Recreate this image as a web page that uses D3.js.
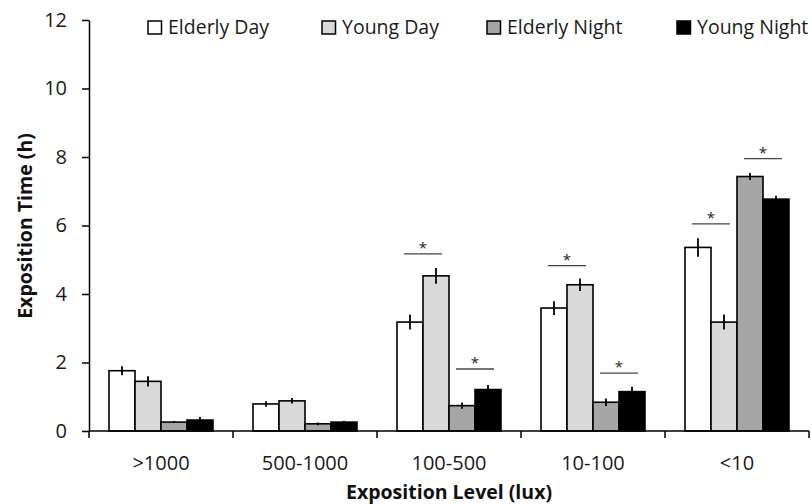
<!DOCTYPE html>
<html>
<head>
<meta charset="utf-8">
<script src="https://cdn.jsdelivr.net/npm/d3@7"></script>
<style>
  html, body { margin: 0; padding: 0; background: #fff; }
  svg { display: block; font-family: "Open Sans", "Liberation Sans", sans-serif; }
</style>
</head>
<body>
<svg id="chart" width="812" height="504"></svg>
<script>
// Exposure levels (x categories) and the four subject groups
const categories = [">1000", "500-1000", "100-500", "10-100", "<10"];
const series = ["Elderly Day", "Young Day", "Elderly Night", "Young Night"];
const seriesColors = ["#ffffff", "#d9d9d9", "#a6a6a6", "#000000"];

// Mean exposition time (h) per category, one array per group
const elderlyDay   = [1.76, 0.79, 3.18, 3.59, 5.36];
const youngDay     = [1.45, 0.88, 4.53, 4.27, 3.18];
const elderlyNight = [0.26, 0.21, 0.74, 0.84, 7.43];
const youngNight   = [0.32, 0.26, 1.21, 1.15, 6.77];

// Standard errors (h)
const elderlyDayErr   = [0.13, 0.08, 0.22, 0.20, 0.27];
const youngDayErr     = [0.15, 0.08, 0.23, 0.18, 0.22];
const elderlyNightErr = [0.03, 0.04, 0.09, 0.11, 0.10];
const youngNightErr   = [0.09, 0.04, 0.13, 0.14, 0.10];

// Significant differences: category, compared pair, bracket height (h)
const sigCategories = ["100-500", "100-500", "10-100", "10-100", "<10", "<10"];
const sigPairs      = ["day", "night", "day", "night", "day", "night"];
const sigLevels     = [5.17, 1.81, 4.83, 1.69, 6.05, 7.95];

const yTicks = [0, 2, 4, 6, 8, 10, 12];

const values = [elderlyDay, youngDay, elderlyNight, youngNight];
const errors = [elderlyDayErr, youngDayErr, elderlyNightErr, youngNightErr];

const bars = [];
series.forEach((s, si) => {
  categories.forEach((c, ci) => {
    bars.push({ series: s, color: seriesColors[si], category: c,
                value: values[si][ci], err: errors[si][ci] });
  });
});

const svg = d3.select("#chart");
const plotLeft = 89, plotRight = 809, plotTop = 20, plotBottom = 431;

const x = d3.scaleBand().domain(categories).range([plotLeft, plotRight]).padding(0);
const xInner = d3.scaleBand().domain(series)
  .range([20, x.bandwidth() - 20]).padding(0);
const y = d3.scaleLinear().domain([0, 12]).range([plotBottom, plotTop]);

// Bars
svg.append("g").selectAll("rect").data(bars).join("rect")
  .attr("x", d => x(d.category) + xInner(d.series))
  .attr("y", d => y(d.value))
  .attr("width", xInner.bandwidth())
  .attr("height", d => y(0) - y(d.value))
  .attr("fill", d => d.color)
  .attr("stroke", "#000")
  .attr("stroke-width", 1.6);

// Error bars (vertical whiskers only)
svg.append("g").selectAll("line").data(bars).join("line")
  .attr("x1", d => x(d.category) + xInner(d.series) + xInner.bandwidth() / 2)
  .attr("x2", d => x(d.category) + xInner(d.series) + xInner.bandwidth() / 2)
  .attr("y1", d => y(d.value + d.err))
  .attr("y2", d => y(d.value - d.err))
  .attr("stroke", "#000")
  .attr("stroke-width", 1.8);

// Y axis
const yAxis = svg.append("g")
  .attr("transform", `translate(${plotLeft},0)`)
  .call(d3.axisLeft(y).tickValues(yTicks).tickSize(7).tickPadding(15).tickSizeOuter(0));
yAxis.select(".domain").attr("stroke", "#000").attr("stroke-width", 1.5);
yAxis.selectAll(".tick line").attr("stroke", "#000").attr("stroke-width", 1.5);
yAxis.selectAll(".tick text")
  .attr("font-size", 20).attr("fill", "#1a1a1a")
  .attr("font-family", "Open Sans, sans-serif");

// X axis: baseline with ticks at category boundaries
const xg = svg.append("g");
xg.append("line")
  .attr("x1", plotLeft).attr("x2", plotRight)
  .attr("y1", plotBottom).attr("y2", plotBottom)
  .attr("stroke", "#000").attr("stroke-width", 1.5);
const boundaries = categories.map(c => x(c)).concat([x(categories[categories.length - 1]) + x.bandwidth()]);
xg.selectAll("line.tk").data(boundaries).join("line")
  .attr("class", "tk")
  .attr("x1", d => d).attr("x2", d => d)
  .attr("y1", plotBottom).attr("y2", plotBottom + 7)
  .attr("stroke", "#000").attr("stroke-width", 1.5);
xg.selectAll("text").data(categories).join("text")
  .attr("x", d => x(d) + x.bandwidth() / 2)
  .attr("y", 470)
  .attr("text-anchor", "middle")
  .attr("font-size", 20)
  .attr("fill", "#1a1a1a")
  .text(d => d);

// Significance brackets with asterisks
const sig = sigCategories.map((c, i) => ({ category: c, pair: sigPairs[i], level: sigLevels[i] }));
const sg = svg.append("g");
sig.forEach(d => {
  const a = d.pair === "day" ? series[0] : series[2];
  const b = d.pair === "day" ? series[1] : series[3];
  const bw = xInner.bandwidth();
  const x1 = x(d.category) + xInner(a) + bw * 0.27;
  const x2 = x(d.category) + xInner(b) + bw * 0.73;
  sg.append("line")
    .attr("x1", x1).attr("x2", x2)
    .attr("y1", y(d.level)).attr("y2", y(d.level))
    .attr("stroke", "#444").attr("stroke-width", 1.3);
  sg.append("text")
    .attr("x", (x1 + x2) / 2)
    .attr("y", y(d.level) - 1)
    .attr("text-anchor", "middle")
    .attr("font-size", 15)
    .attr("fill", "#222")
    .text("*");
});

// Legend
const legendX = [148, 322, 487, 677];
const lg = svg.append("g");
series.forEach((s, i) => {
  lg.append("rect")
    .attr("x", legendX[i]).attr("y", 21)
    .attr("width", 13.5).attr("height", 13)
    .attr("fill", seriesColors[i])
    .attr("stroke", "#000").attr("stroke-width", 1.5);
  lg.append("text")
    .attr("x", legendX[i] + 20).attr("y", 34)
    .attr("font-size", 19.5)
    .attr("fill", "#1a1a1a")
    .text(s);
});

// Axis titles
svg.append("text")
  .attr("x", (plotLeft + plotRight) / 2).attr("y", 499)
  .attr("text-anchor", "middle")
  .attr("font-size", 19.5).attr("font-weight", "bold")
  .attr("fill", "#111")
  .text("Exposition Level (lux)");

svg.append("text")
  .attr("transform", "translate(32,226) rotate(-90)")
  .attr("text-anchor", "middle")
  .attr("font-size", 19.5).attr("font-weight", "bold")
  .attr("fill", "#111")
  .text("Exposition Time (h)");
</script>
</body>
</html>
